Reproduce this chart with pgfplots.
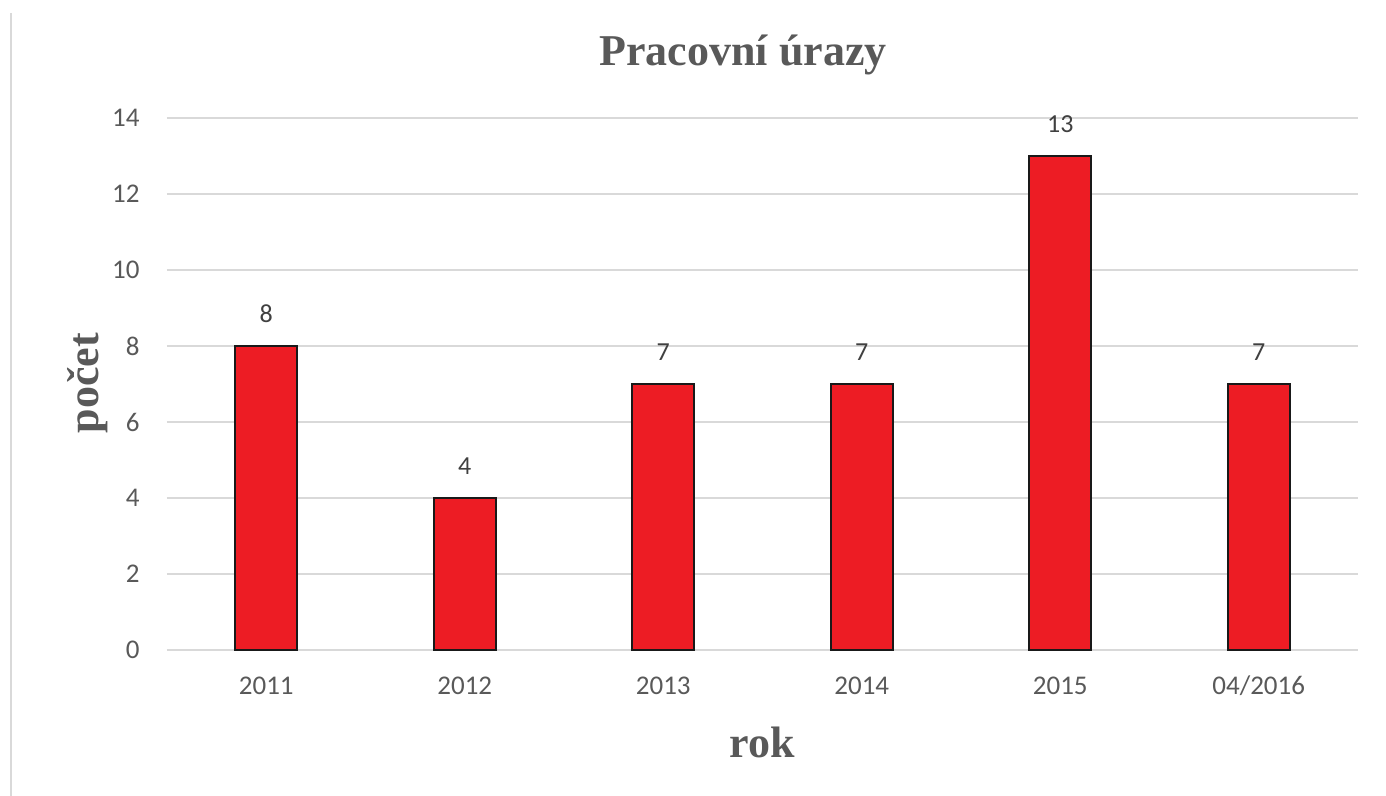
\documentclass[border=0pt]{standalone}
\usepackage{pgfplots}
\pgfplotsset{compat=1.18}
\usepackage{fontspec}
\setmainfont{Carlito}
\newfontfamily\titlefont{Liberation Serif}
\definecolor{barred}{HTML}{ED1C24}
\definecolor{txtgray}{HTML}{595959}
\definecolor{lblgray}{HTML}{404040}
\definecolor{gridgray}{HTML}{D9D9D9}
\begin{document}
\begin{tikzpicture}
\useasboundingbox (-83.5pt,-73pt) rectangle (609.5pt,325pt);
\draw[gridgray, line width=1pt] (-78pt,318.5pt) -- (-78pt,-73pt);
\begin{axis}[
  at={(0pt,0pt)}, anchor=south west,
  scale only axis, width=595.5pt, height=266pt,
  xmin=-0.5, xmax=5.5, ymin=0, ymax=14,
  ytick={0,2,4,6,8,10,12,14},
  xtick={0,1,2,3,4,5},
  xticklabels={2011,2012,2013,2014,2015,04/2016},
  axis line style={draw=none},
  major tick length=0pt,
  ymajorgrids, grid style={gridgray, line width=0.75pt},
  tick label style={font=\fontsize{13.5}{15}\selectfont, text=txtgray},
  /pgf/number format/assume math mode=true,
  xticklabel style={anchor=center, yshift=-18pt},
  yticklabel style={anchor=east, inner sep=0pt, xshift=-13.5pt},
  ybar, bar width=31pt,
  nodes near coords,
  every node near coord/.append style={font=\fontsize{13}{15}\selectfont, text=lblgray, inner sep=0pt, yshift=11pt},
  clip=false,
]
\addplot[fill=barred, draw=black!90, line width=1pt] coordinates {(0,8) (1,4) (2,7) (3,7) (4,13) (5,7)};
\end{axis}
\node[text=txtgray, font=\titlefont\bfseries\fontsize{22}{26}\selectfont] at (288pt,297.5pt) {Pracovní úrazy};
\node[text=txtgray, font=\titlefont\bfseries\fontsize{22}{26}\selectfont] at (297.5pt,-46pt) {rok};
\node[text=txtgray, rotate=90, font=\titlefont\bfseries\fontsize{22}{26}\selectfont] at (-39.5pt,133.5pt) {počet};
\end{tikzpicture}
\end{document}
